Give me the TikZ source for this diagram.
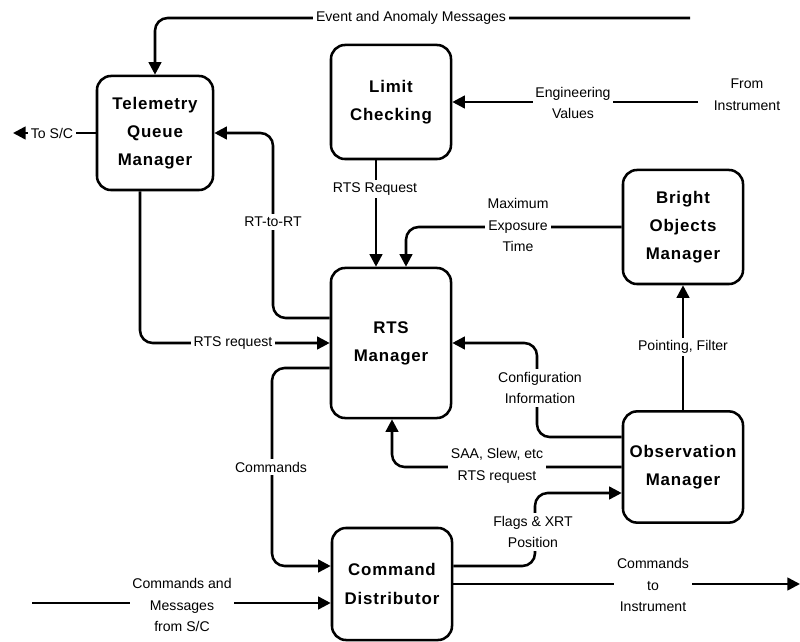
\documentclass[tikz,border=0pt]{standalone}
\usepackage{fontspec}
\setmainfont{Liberation Sans}
\newfontfamily\boxfont[LetterSpace=5]{Liberation Sans}
\usetikzlibrary{arrows.meta,positioning}

\begin{document}
\begin{tikzpicture}[x=0.025cm,y=-0.025cm,
  block/.style={draw,line width=1.8pt,rounded corners=10pt,align=center,
    minimum width=3cm,minimum height=2.85cm,
    font=\boxfont\bfseries\fontsize{12}{20}\selectfont},
  flow/.style={line width=1.8pt,rounded corners=9pt,-{Triangle[length=9pt,width=9pt]}},
  lbl/.style={fill=white,align=center,inner sep=2pt,font=\fontsize{10}{15.5}\selectfont}]
\useasboundingbox (0,0) rectangle (800,642);

% the six managers
\node[block,minimum width=2.9cm] (tqm) at (155,133) {Telemetry\\Queue\\Manager};
\node[block] (lc) at (391,102) {Limit\\Checking};
\node[block,minimum height=3.75cm] (rts) at (391,343) {RTS\\Manager};
\node[block] (bom) at (683,227) {Bright\\Objects\\Manager};
\node[block,minimum height=2.78cm] (obs) at (683,467) {Observation\\Manager};
\node[block,minimum height=2.8cm] (cd) at (392,584) {Command\\Distributor};

% free ends
\coordinate (evt) at (690,18);
\coordinate (sc) at (13,133);
\coordinate (ev) at (698,102);
\coordinate (cms) at (32,603);
\coordinate (ci) at (800,584);

% connectors
\draw[flow] (evt) -- (tqm.north |- evt) -- (tqm.north);
\draw[flow] (tqm.west) -- (sc);
\draw[flow] (rts.west |- 0,318) -- (273,318) -- (273,133) -- (tqm.east);
\draw[flow] (tqm.south -| 140,0) -- (140,343) -- (rts.west);
\draw[flow] (rts.west |- 0,368) -- (272,368) -- (272,566) -- (cd.west |- 0,566);
\draw[flow] (cms) -- (cd.west |- cms);
\draw[flow] (lc.south -| 376,0) -- (rts.north -| 376,0);
\draw[flow] (ev) -- (lc.east |- ev);
\draw[flow] (bom.west) -- (406,227) -- (rts.north -| 406,0);
\draw[flow] (obs.west |- 0,437) -- (537,437) -- (537,343) -- (rts.east);
\draw[flow] (obs.west) -- (392,467) -- (rts.south -| 392,0);
\draw[flow] (cd.east |- 0,566) -- (535,566) -- (535,493) -- (obs.west |- 0,493);
\draw[flow] (cd.east |- ci) -- (ci);
\draw[flow] (obs.north) -- (bom.south);

% labels
\node[lbl] (evtl) at (411,18) {Event and Anomaly Messages};
\node[lbl] (scl) at (52,133) {To S/C};
\node[lbl] (rtrt) at (273,222) {RT-to-RT};
\node[lbl] (rreq) at (233,343) {RTS request};
\node[lbl] (cmdl) at (271,467) {Commands};
\node[lbl] (cmsl) at (182,605) {Commands and\\Messages\\from S/C};
\node[lbl] (lreq) at (375,189) {RTS Request};
\node[lbl] (evl) at (573,103) {Engineering\\Values};
\node[lbl] (inst) at (747,95) {From\\Instrument};
\node[lbl] (maxl) at (518,225) {Maximum\\Exposure\\Time};
\node[lbl] (cfgl) at (540,388) {Configuration\\Information};
\node[lbl] (saal) at (497,466) {SAA, Slew, etc\\RTS request};
\node[lbl] (flgl) at (533,532) {Flags \& XRT\\Position};
\node[lbl] (cil) at (653,585) {Commands\\to\\Instrument};
\node[lbl] (ptl) at (683,347) {Pointing, Filter};
\end{tikzpicture}
\end{document}
